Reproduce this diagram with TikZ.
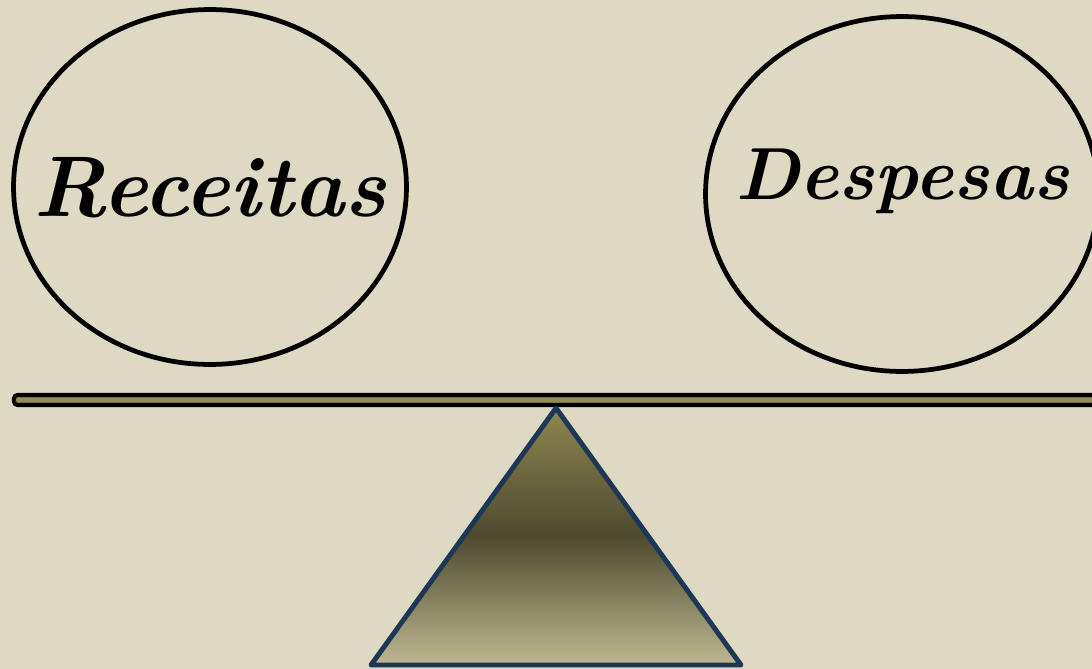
\documentclass[tikz,border=0pt]{standalone}
\usepackage{tikz}
\usetikzlibrary{shapes.geometric}
\definecolor{bgcol}{HTML}{DDD9C3}
\definecolor{barcol}{HTML}{938953}
\definecolor{navycol}{HTML}{1F3757}
\definecolor{shtop}{HTML}{8E8650}
\definecolor{shmid}{HTML}{4E4A2F}
\definecolor{shbot}{HTML}{BEB990}

\begin{document}
\begin{tikzpicture}[x=0.02cm, y=-0.02cm,
  pan/.style={ellipse, draw=black, line width=2.7pt, minimum width=7.86cm, minimum height=7.1cm, inner sep=0pt},
  word/.style={font=\fontsize{#1}{#1}\selectfont\bfseries\itshape, inner sep=0pt}]

\fill[bgcol] (0,0) rectangle (1092,669);
\useasboundingbox (0,0) rectangle (1092,669);

\node[pan] (receitas) at (210,187) {};
\node[pan] (despesas) at (902,194) {};
\node[word=49, anchor=base] (receitastxt) at ([yshift=-17pt]receitas.center) {Receitas};
\node[word=42, anchor=base] (despesastxt) at ([yshift=-3.4pt]despesas.center) {Despesas};

% travessa
\draw[fill=barcol, line width=2.3pt, rounded corners=2pt] (14,395) rectangle (1110,405);

% apoio
\shade[top color=shtop, bottom color=shbot, middle color=shmid] (556,408) -- (741,665) -- (371,665) -- cycle;
\draw[navycol, line width=2.8pt, line join=round] (556,408) -- (741,665) -- (371,665) -- cycle;

\end{tikzpicture}
\end{document}
